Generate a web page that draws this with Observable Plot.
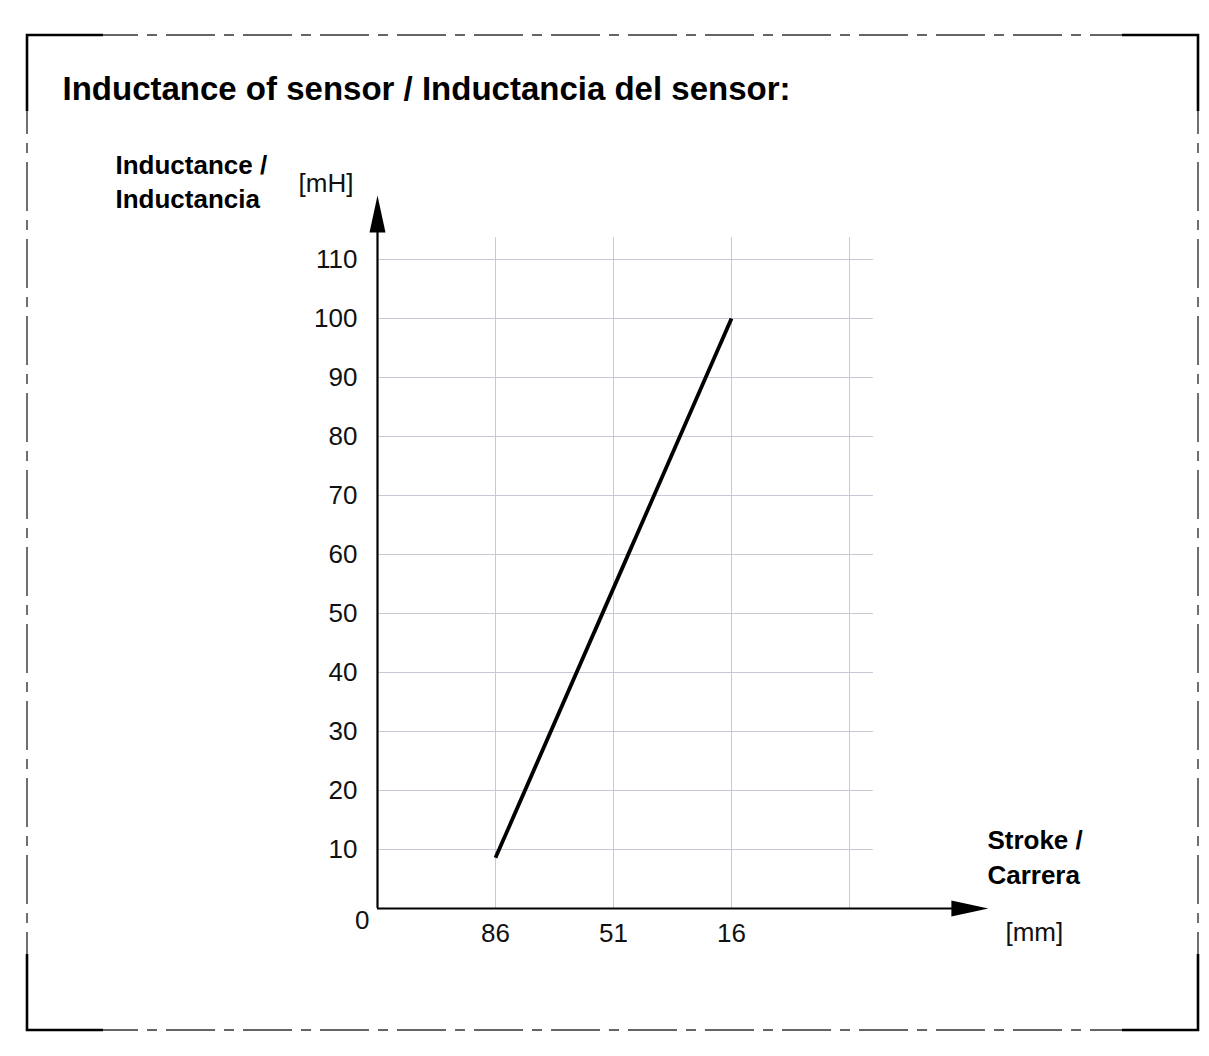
<!DOCTYPE html>
<html>
<head>
<meta charset="utf-8">
<script src="https://cdn.jsdelivr.net/npm/d3@7"></script>
<script src="https://cdn.jsdelivr.net/npm/@observablehq/plot@0.6"></script>
<style>
  html, body { margin: 0; padding: 0; background: #fff; }
  #chart svg { display: block; }
</style>
</head>
<body>
<div id="chart"></div>
<script>
// ---- data ----
const strokeMm = [86, 51, 16];            // stroke positions [mm]
const inductance = [8.6, 54.3, 100];      // inductance [mH]
const yTicks = [10, 20, 30, 40, 50, 60, 70, 80, 90, 100, 110];
const xTickLabels = ["86", "51", "16"];
const xGrid = [86, 51, 16, -19];
const titleText = "Inductance of sensor / Inductancia del sensor:";
const yLabel = ["Inductance /", "Inductancia"];
const yUnit = "[mH]";
const xLabel = ["Stroke /", "Carrera"];
const xUnit = "[mm]";

const data = strokeMm.map((s, i) => ({stroke: s, L: inductance[i]}));

// ---- layout constants ----
const W = 1209, H = 1056;
const X0 = 121, XEND = -19;     // axis origin and last grid (mm)
const font = "'Liberation Sans', Arial, sans-serif";

// narrow filled arrow head pointing right, tip at origin
const arrowHead = {
  draw(ctx) {
    ctx.moveTo(0, 0);
    ctx.lineTo(-37, -8);
    ctx.lineTo(-37, 8);
    ctx.closePath();
  }
};

const gridColor = "#c9c9d6";

const plot = Plot.plot({
  width: W,
  height: H,
  margin: 0,
  style: {fontFamily: font, background: "#fff", color: "#000"},
  x: {type: "linear", domain: [X0, XEND], range: [377, 849], axis: null},
  y: {type: "linear", domain: [0, 110], range: [908, 259], axis: null},
  marks: [
    // grid
    Plot.ruleY(yTicks, {x1: X0, x2: -26.1, stroke: gridColor, strokeWidth: 1}),
    Plot.ruleX(xGrid, {y1: 0, y2: 113.7, stroke: gridColor, strokeWidth: 1}),
    // axes
    Plot.ruleY([0], {x1: X0, x2: -52, stroke: "#000", strokeWidth: 2.2}),
    Plot.ruleX([X0], {y1: 0, y2: 116, stroke: "#000", strokeWidth: 2.2}),
    Plot.dot([{x: -60.2, y: 0}], {x: "x", y: "y", symbol: arrowHead, fill: "#000", stroke: "none"}),
    Plot.dot([{x: X0, y: 120.85}], {x: "x", y: "y", symbol: arrowHead, fill: "#000", stroke: "none", rotate: -90}),
    // data line
    Plot.line(data, {x: "stroke", y: "L", stroke: "#000", strokeWidth: 3.8, strokeLinecap: "butt"}),
    // tick labels
    Plot.text(yTicks, {x: X0, y: d => d, text: d => String(d), textAnchor: "end", dx: -20, fontSize: 26, fill: "#111"}),
    Plot.text([0], {x: X0, y: d => d, text: d => String(d), textAnchor: "end", dx: -8, dy: 12, fontSize: 26, fill: "#111"}),
    Plot.text(strokeMm, {x: d => d, y: 0, text: (d, i) => xTickLabels[i], dy: 25, fontSize: 26, fill: "#111"}),
    // axis labels
    Plot.text([yLabel[0]], {x: X0, y: 120.85, text: d => d, textAnchor: "start", dx: -262, dy: -21, fontSize: 26, fontWeight: "bold", lineAnchor: "bottom"}),
    Plot.text([yLabel[1]], {x: X0, y: 120.85, text: d => d, textAnchor: "start", dx: -262, dy: 13, fontSize: 26, fontWeight: "bold", lineAnchor: "bottom"}),
    Plot.text([yUnit], {x: X0, y: 120.85, text: d => d, textAnchor: "start", dx: -79, dy: -3, fontSize: 26, lineAnchor: "bottom", fill: "#111"}),
    Plot.text([xLabel[0]], {x: -60.2, y: 0, text: d => d, textAnchor: "start", dx: -1, dy: -60, fontSize: 26, fontWeight: "bold", lineAnchor: "bottom"}),
    Plot.text([xLabel[1]], {x: -60.2, y: 0, text: d => d, textAnchor: "start", dx: -1, dy: -25, fontSize: 26, fontWeight: "bold", lineAnchor: "bottom"}),
    Plot.text([xUnit], {x: -60.2, y: 0, text: d => d, textAnchor: "start", dx: 17, dy: 32, fontSize: 26, lineAnchor: "bottom", fill: "#111"}),
    // title
    Plot.text([titleText], {frameAnchor: "top-left", text: d => d, dx: 62, dy: 99, textAnchor: "start", lineAnchor: "bottom", fontSize: 33, fontWeight: "bold"})
  ]
});

document.getElementById("chart").appendChild(plot);

// ---- drawing frame (dash-dot border with solid corners) ----
const svg = d3.select(plot);
const L = 27, T = 35, R = 1198, B = 1030, C = 76;
const g = svg.append("g").attr("fill", "none");
const dash = "49 9 10 9";
[
  [L + C, T, R - C, T, 14],
  [L + C, B, R - C, B, 14],
  [L, T + C, L, B - C, 26],
  [R, T + C, R, B - C, 26]
].forEach(([x1, y1, x2, y2, off]) => {
  g.append("line").attr("x1", x1).attr("y1", y1).attr("x2", x2).attr("y2", y2)
    .attr("stroke", "#333").attr("stroke-width", 1.4)
    .attr("stroke-dasharray", dash).attr("stroke-dashoffset", off);
});
[
  `M${L + C},${T}H${L}V${T + C}`,
  `M${R - C},${T}H${R}V${T + C}`,
  `M${L + C},${B}H${L}V${B - C}`,
  `M${R - C},${B}H${R}V${B - C}`
].forEach(d => {
  g.append("path").attr("d", d).attr("stroke", "#000").attr("stroke-width", 2.6);
});
</script>
</body>
</html>
